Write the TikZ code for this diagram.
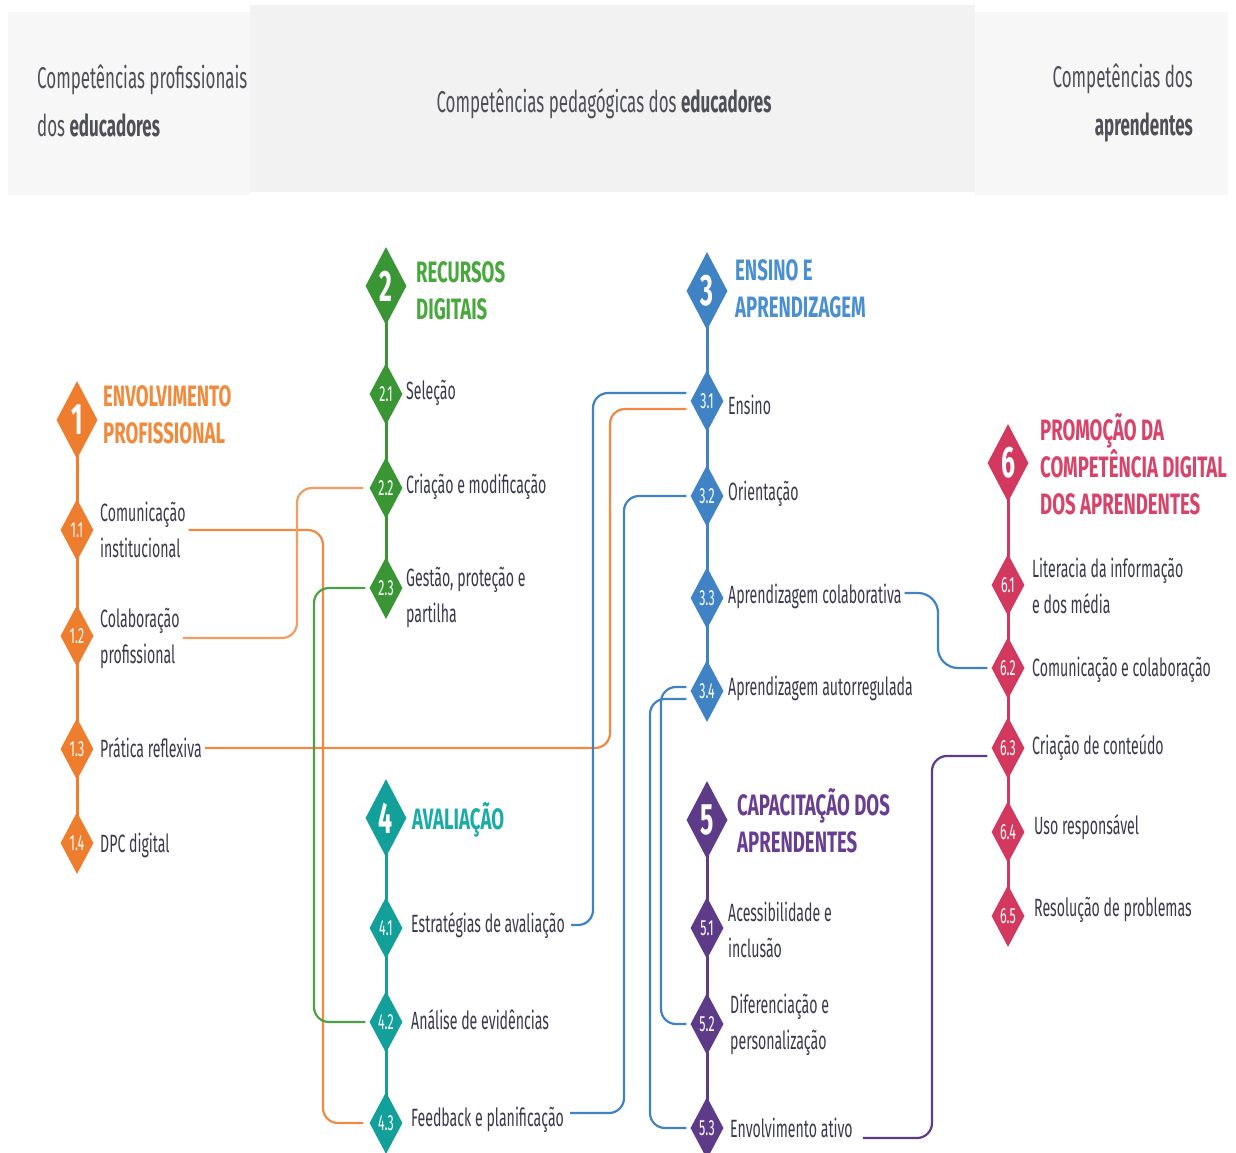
\documentclass[tikz,border=0pt]{standalone}
\usepackage{fontspec}
\setmainfont{Fira Sans}[FakeStretch=0.565]
\newfontfamily\ttlfont{Fira Sans}[FakeStretch=0.63]
\usetikzlibrary{shapes.geometric,backgrounds,calc}
\definecolor{cOr}{HTML}{EE7D2E}
\definecolor{cGr}{HTML}{3A9634}
\definecolor{cBl}{HTML}{3F83C4}
\definecolor{cTe}{HTML}{13A09A}
\definecolor{cPu}{HTML}{5E3B89}
\definecolor{cCr}{HTML}{D3395F}
\definecolor{tOr}{HTML}{F08A3C}
\definecolor{tGr}{HTML}{48A83E}
\definecolor{tBl}{HTML}{4A8FD0}
\definecolor{tTe}{HTML}{1AACA5}
\definecolor{tPu}{HTML}{673E91}
\definecolor{tCr}{HTML}{D8436A}
\definecolor{txt}{HTML}{3A3A4C}
\definecolor{hdr}{HTML}{4F4F58}
\definecolor{bgA}{HTML}{F7F7F7}
\definecolor{bgB}{HTML}{F2F2F2}
\tikzset{
  bigd/.style={diamond, aspect=0.5, minimum width=41pt, minimum height=78pt, inner sep=0pt, text=white, font=\fontsize{44}{44}\selectfont\bfseries},
  smd/.style={diamond, aspect=0.5, minimum width=33pt, minimum height=62pt, inner sep=0pt, text=white, font=\fontsize{22}{22}\selectfont},
  lab/.style={anchor=west, text=txt, align=left, font=\fontsize{25}{36}\selectfont, inner sep=0pt},
  ttl/.style={anchor=west, align=left, font=\fontsize{29.5}{37}\ttlfont\bfseries, inner sep=0pt},
  htx/.style={text=hdr, font=\fontsize{30}{48}\selectfont, inner sep=0pt},
  hbox/.style={draw=none, inner sep=0pt, anchor=north west},
  colline/.style={line width=3pt},
  con/.style={line width=2.2pt, rounded corners=15pt},
}
\begin{document}
\begin{tikzpicture}[x=1pt,y=-1pt]
\useasboundingbox (0,0) rectangle (1236,1153);
\begin{pgfonlayer}{background}
\fill[white] (0,0) rectangle (1236,1153);
\end{pgfonlayer}
% header boxes
\node[hbox, fill=bgA, minimum width=242pt, minimum height=183pt] (hL) at (8,12) {};
\node[hbox, fill=bgB, minimum width=725pt, minimum height=187pt] (hM) at (250,5) {};
\node[hbox, fill=bgA, minimum width=253pt, minimum height=183pt] (hR) at (975,12) {};
\node[htx, anchor=west, align=left] (hLt) at (37,101) {Competências profissionais\\dos \textbf{educadores}};
\node[htx] (hMt) at (604,104) {Competências pedagógicas dos \textbf{educadores}};
\node[htx, anchor=east, align=right] (hRt) at (1193,103) {Competências dos\\\textbf{aprendentes}};

% column 1
\node[bigd, fill=cOr] (d1) at (77,420) {1};
\node[smd, fill=cOr] (d11) at (77,530) {1.1};
\node[smd, fill=cOr] (d12) at (77,636) {1.2};
\node[smd, fill=cOr] (d13) at (77,749) {1.3};
\node[smd, fill=cOr] (d14) at (77,843) {1.4};
\node[ttl, text=tOr] (t1) at (103,415) {ENVOLVIMENTO\\PROFISSIONAL};
\node[lab] (l11) at (100,530) {Comunicação\\institucional};
\node[lab] (l12) at (100,638) {Colaboração\\profissional};
\node[lab] (l13) at (100,748) {Prática reflexiva};
\node[lab] (l14) at (100,845) {DPC digital};

% column 2
\node[bigd, fill=cGr] (d2) at (386,286) {2};
\node[smd, fill=cGr] (d21) at (386,394) {2.1};
\node[smd, fill=cGr] (d22) at (386,488) {2.2};
\node[smd, fill=cGr] (d23) at (386,588) {2.3};
\node[ttl, text=tGr] (t2) at (416,291) {RECURSOS\\DIGITAIS};
\node[lab] (l21) at (406,393) {Seleção};
\node[lab] (l22) at (406,487) {Criação e modificação};
\node[lab] (l23) at (406,597) {Gestão, proteção e\\partilha};

% column 3
\node[bigd, fill=cBl] (d3) at (707,291) {3};
\node[smd, fill=cBl] (d31) at (707,401) {3.1};
\node[smd, fill=cBl] (d32) at (707,496) {3.2};
\node[smd, fill=cBl] (d33) at (707,598) {3.3};
\node[smd, fill=cBl] (d34) at (707,691) {3.4};
\node[ttl, text=tBl] (t3) at (735,289) {ENSINO E\\APRENDIZAGEM};
\node[lab] (l31) at (728,405) {Ensino};
\node[lab] (l32) at (728,494) {Orientação};
\node[lab] (l33) at (728,596) {Aprendizagem colaborativa};
\node[lab] (l34) at (728,688) {Aprendizagem autorregulada};

% column 4
\node[bigd, fill=cTe] (d4) at (386,818) {4};
\node[smd, fill=cTe] (d41) at (386,928) {4.1};
\node[smd, fill=cTe] (d42) at (386,1022) {4.2};
\node[smd, fill=cTe] (d43) at (386,1123) {4.3};
\node[ttl, text=tTe] (t4) at (412,820) {AVALIAÇÃO};
\node[lab] (l41) at (411,925) {Estratégias de avaliação};
\node[lab] (l42) at (411,1020) {Análise de evidências};
\node[lab] (l43) at (411,1120) {Feedback e planificação};

% column 5
\node[bigd, fill=cPu] (d5) at (707,820) {5};
\node[smd, fill=cPu] (d51) at (707,928) {5.1};
\node[smd, fill=cPu] (d52) at (707,1024) {5.2};
\node[smd, fill=cPu] (d53) at (707,1128) {5.3};
\node[ttl, text=tPu] (t5) at (737,821) {CAPACITAÇÃO DOS\\APRENDENTES};
\node[lab] (l51) at (728,930) {Acessibilidade e\\inclusão};
\node[lab] (l52) at (730,1025) {Diferenciação e\\personalização};
\node[lab] (l53) at (730,1128) {Envolvimento ativo};

% column 6
\node[bigd, fill=cCr] (d6) at (1008,463) {6};
\node[smd, fill=cCr] (d61) at (1008,585) {6.1};
\node[smd, fill=cCr] (d62) at (1008,668) {6.2};
\node[smd, fill=cCr] (d63) at (1008,748) {6.3};
\node[smd, fill=cCr] (d64) at (1008,832) {6.4};
\node[smd, fill=cCr] (d65) at (1008,916) {6.5};
\node[ttl, text=tCr] (t6) at (1040,464) {PROMOÇÃO DA\\COMPETÊNCIA DIGITAL\\DOS APRENDENTES};
\node[lab] (l61) at (1032,586) {Literacia da informação\\e dos média};
\node[lab] (l62) at (1032,670) {Comunicação e colaboração};
\node[lab] (l63) at (1032,747) {Criação de conteúdo};
\node[lab] (l64) at (1034,827) {Uso responsável};
\node[lab] (l65) at (1034,910) {Resolução de problemas};

\begin{pgfonlayer}{background}
% column spines
\draw[colline, cOr] (d1.center) -- (d14.center);
\draw[colline, cGr] (d2.center) -- (d23.center);
\draw[colline, cBl] (d3.center) -- (d34.center);
\draw[colline, cTe] (d4.center) -- (d43.center);
\draw[colline, cPu] (d5.center) -- (d53.center);
\draw[colline, cCr] (d6.center) -- (d65.center);
% connectors
\draw[con, cOr!90] ([xshift=3pt]l11.east) -| (323,900) |- ([xshift=-6pt]d43.west);
\draw[con, cOr!75] ([xshift=3pt]l12.east) -| (297,560) |- ([xshift=-6pt]d22.west);
\draw[con, cOr!90] ([xshift=3pt]l13.east) -| (610,560) |- ([xshift=-4pt,yshift=-8pt]d31.west);
\draw[con, cGr!90] ([xshift=-4pt]d23.west) -| (314,800) |- ([xshift=-4pt]d42.west);
\draw[con, cBl] ([xshift=-4pt,yshift=8pt]d31.west) -| (593,700) |- ([xshift=6pt]l41.east);
\draw[con, cBl] ([xshift=-4pt]d32.west) -| (624,800) |- ([xshift=6pt,yshift=7pt]l43.east);
\draw[con, cBl] ([xshift=-4pt,yshift=4pt]d34.west) -| (661,850) |- ([xshift=-4pt]d52.west);
\draw[con, cBl] ([xshift=-4pt,yshift=-8pt]d34.west) -| (650,900) |- ([xshift=-4pt]d53.west);
\draw[con, cBl, rounded corners=20pt] ([xshift=3pt,yshift=3pt]l33.east) -| (938,630) |- ([xshift=-4pt]d62.west);
\draw[con, cPu] ([xshift=10pt,yshift=-10pt]l53.east) -| (932,900) |- ([xshift=-4pt,yshift=-8pt]d63.west);
\end{pgfonlayer}
\end{tikzpicture}
\end{document}
